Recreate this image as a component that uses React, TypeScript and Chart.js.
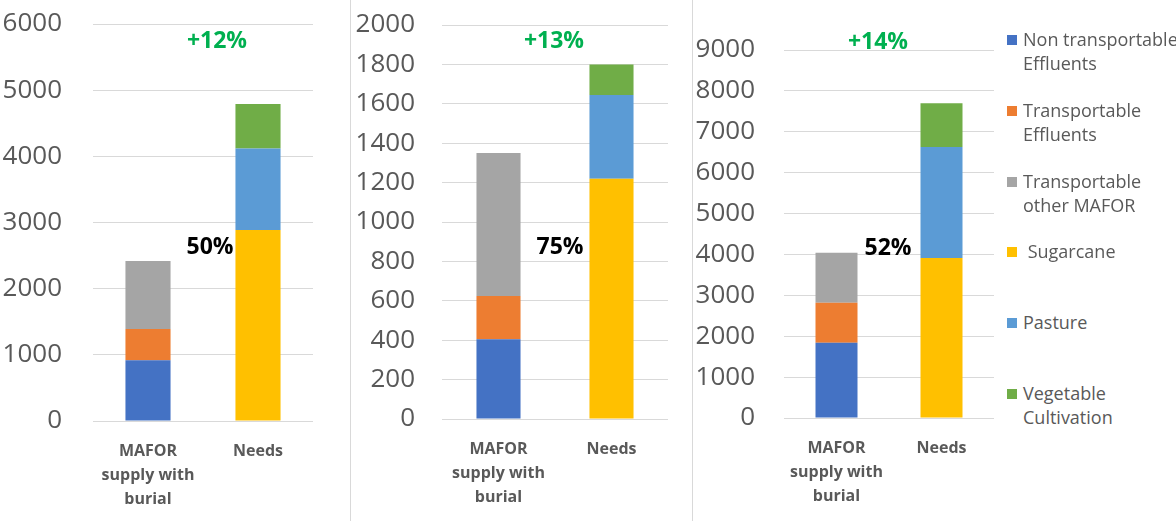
import React, { useEffect, useRef } from "react";
import { Chart, registerables } from "chart.js";

Chart.register(...registerables);

// ---------- data ----------
const categories: (string | string[])[] = [["MAFOR", "supply with", "burial"], "Needs"];

const seriesNames = [
  "Non transportable Effluents",
  "Transportable Effluents",
  "Transportable other MAFOR",
  "Sugarcane",
  "Pasture",
  "Vegetable Cultivation",
];
const seriesColors = ["#4472C4", "#ED7D31", "#A5A5A5", "#FFC000", "#5B9BD5", "#70AD47"];

// Panel 1 (max 6000)
const p1NonTransportable = [920, null];
const p1Transportable = [470, null];
const p1OtherMafor = [1030, null];
const p1Sugarcane = [null, 2885];
const p1Pasture = [null, 1235];
const p1Vegetable = [null, 670];

// Panel 2 (max 2000)
const p2NonTransportable = [405, null];
const p2Transportable = [220, null];
const p2OtherMafor = [725, null];
const p2Sugarcane = [null, 1220];
const p2Pasture = [null, 425];
const p2Vegetable = [null, 155];

// Panel 3 (max 9000)
const p3NonTransportable = [1840, null];
const p3Transportable = [980, null];
const p3OtherMafor = [1220, null];
const p3Sugarcane = [null, 3910];
const p3Pasture = [null, 2720];
const p3Vegetable = [null, 1070];

const panelMax = [6000, 2000, 9000];
const panelStep = [1000, 200, 1000];
const increaseLabels = ["+12%", "+13%", "+14%"];
const coverageLabels = ["50%", "75%", "52%"];

// ---------- layout ----------
const H = 521;
const FONT = "'Open Sans', 'Liberation Sans', sans-serif";

type PanelProps = {
  left: number;
  width: number;
  top: number;
  bottom: number;
  yAxisWidth: number;
  tickGap: number;
  rightPad: number;
  barPct: number;
  max: number;
  step: number;
  series: (number | null)[][];
};

function Panel(p: PanelProps) {
  const ref = useRef<HTMLCanvasElement>(null);
  useEffect(() => {
    const chart = new Chart(ref.current!, {
      type: "bar",
      data: {
        labels: categories as any,
        datasets: p.series.map((d, i) => ({
          label: seriesNames[i],
          data: d as any,
          backgroundColor: seriesColors[i],
          borderWidth: 0,
          categoryPercentage: 1,
          barPercentage: p.barPct,
        })),
      },
      options: {
        responsive: false,
        maintainAspectRatio: false,
        animation: false,
        layout: { padding: { top: p.top, right: p.rightPad, left: 0, bottom: 0 } },
        plugins: { legend: { display: false }, tooltip: { enabled: false } },
        scales: {
          x: {
            stacked: true,
            grid: { display: false, drawTicks: false },
            border: { display: false },
            ticks: {
              padding: 18,
              color: "#595959",
              maxRotation: 0,
              autoSkip: false,
              font: { family: FONT, size: 16, weight: "bold", lineHeight: 1.5 },
            },
            afterFit: (s: any) => {
              s.height = H - p.bottom;
            },
          },
          y: {
            stacked: true,
            min: 0,
            max: p.max,
            grid: {
              color: "#d9d9d9",
              lineWidth: 1,
              drawTicks: true,
              tickLength: p.tickGap,
              tickColor: "rgba(0,0,0,0)",
            },
            border: { display: false },
            ticks: {
              stepSize: p.step,
              padding: 0,
              color: "#595959",
              font: { family: FONT, size: 26 },
              callback: (v: any) => String(v),
            },
            afterFit: (s: any) => {
              s.width = p.yAxisWidth;
            },
          },
        },
      },
    } as any);
    return () => chart.destroy();
  }, []);
  return (
    <canvas
      ref={ref}
      width={p.width}
      height={H}
      style={{ position: "absolute", left: p.left, top: 0, width: p.width, height: H }}
    />
  );
}

function Label({ text, cx, cy, color, size }: { text: string; cx: number; cy: number; color: string; size: number }) {
  return (
    <div
      style={{
        position: "absolute",
        left: cx - 60,
        width: 120,
        top: cy - 15,
        height: 30,
        lineHeight: "30px",
        textAlign: "center",
        fontFamily: FONT,
        fontWeight: 700,
        fontSize: size,
        color,
        whiteSpace: "nowrap",
      }}
    >
      {text}
    </div>
  );
}

const legendLines: string[][] = [
  ["Non transportable", "Effluents"],
  ["Transportable", "Effluents"],
  ["Transportable", "other MAFOR"],
  [" Sugarcane"],
  ["Pasture"],
  ["Vegetable", "Cultivation"],
];
const legendFirstLineY = [39, 110, 181, 251, 322, 393];

export default function App() {
  return (
    <div
      style={{
        position: "fixed",
        left: 0,
        top: 0,
        width: 1176,
        height: H,
        background: "#ffffff",
        overflow: "hidden",
      }}
    >
      <Panel
        left={0}
        width={330}
        top={24}
        bottom={421}
        yAxisWidth={93}
        tickGap={31}
        rightPad={17}
        barPct={0.41}
        max={panelMax[0]}
        step={panelStep[0]}
        series={[p1NonTransportable, p1Transportable, p1OtherMafor, p1Sugarcane, p1Pasture, p1Vegetable]}
      />
      <Panel
        left={345}
        width={330}
        top={25}
        bottom={419}
        yAxisWidth={97}
        tickGap={27}
        rightPad={7}
        barPct={0.39}
        max={panelMax[1]}
        step={panelStep[1]}
        series={[p2NonTransportable, p2Transportable, p2OtherMafor, p2Sugarcane, p2Pasture, p2Vegetable]}
      />
      <Panel
        left={695}
        width={305}
        top={50}
        bottom={418}
        yAxisWidth={89}
        tickGap={29}
        rightPad={6}
        barPct={0.4}
        max={panelMax[2]}
        step={panelStep[2]}
        series={[p3NonTransportable, p3Transportable, p3OtherMafor, p3Sugarcane, p3Pasture, p3Vegetable]}
      />

      {/* separators */}
      <div style={{ position: "absolute", left: 350, top: 0, width: 1, height: H, background: "#d9d9d9" }} />
      <div style={{ position: "absolute", left: 692, top: 0, width: 1, height: H, background: "#d9d9d9" }} />

      {/* annotations */}
      <Label text={increaseLabels[0]} cx={217} cy={39} color="#00B050" size={23} />
      <Label text={increaseLabels[1]} cx={554} cy={39} color="#00B050" size={23} />
      <Label text={increaseLabels[2]} cx={878} cy={40} color="#00B050" size={23} />
      <Label text={coverageLabels[0]} cx={210} cy={245} color="#000000" size={23} />
      <Label text={coverageLabels[1]} cx={560} cy={245} color="#000000" size={23} />
      <Label text={coverageLabels[2]} cx={888} cy={246} color="#000000" size={23} />

      {/* legend */}
      {legendLines.map((lines, i) => (
        <div key={i}>
          <div
            style={{
              position: "absolute",
              left: 1007,
              top: legendFirstLineY[i] - 4,
              width: 10,
              height: 10,
              background: seriesColors[i],
            }}
          />
          <div
            style={{
              position: "absolute",
              left: 1023,
              top: legendFirstLineY[i] - 12,
              fontFamily: FONT,
              fontSize: 18,
              lineHeight: "24px",
              color: "#595959",
              whiteSpace: "pre",
            }}
          >
            {lines.map((l, j) => (
              <div key={j}>{l}</div>
            ))}
          </div>
        </div>
      ))}
    </div>
  );
}
